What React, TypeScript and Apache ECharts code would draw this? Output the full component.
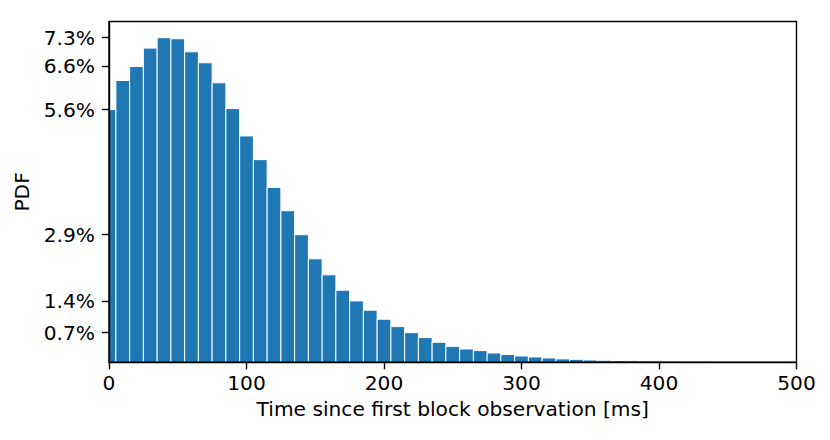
import React, { useEffect, useRef } from "react";
import * as echarts from "echarts";

// Bin centres (ms) and PDF values (%)
const binCenters: number[] = [
  0, 10, 20, 30, 40, 50, 60, 70, 80, 90,
  100, 110, 120, 130, 140, 150, 160, 170, 180, 190,
  200, 210, 220, 230, 240, 250, 260, 270, 280, 290,
  300, 310, 320, 330, 340, 350, 360, 370, 380, 390,
  400, 410, 420, 430,
];
const pdfPercent: number[] = [
  5.649, 6.299, 6.612, 7.023, 7.255, 7.232, 6.941, 6.695, 6.247, 5.672,
  5.06, 4.53, 3.91, 3.388, 2.852, 2.313, 1.955, 1.612, 1.373, 1.164,
  0.963, 0.798, 0.663, 0.552, 0.447, 0.357, 0.298, 0.261, 0.208, 0.175,
  0.141, 0.119, 0.097, 0.076, 0.066, 0.052, 0.045, 0.04, 0.035, 0.03,
  0.027, 0.022, 0.019, 0.015,
];
// Y tick positions (%), labelled with one decimal
const yTickValues: number[] = [0.663, 1.373, 2.852, 5.649, 6.612, 7.255];
const xTickInterval = 100;
const binWidth = 10;

const FONT = "DejaVu Sans";
const FS = 20.2;

export default function App() {
  const ref = useRef<HTMLDivElement>(null);
  useEffect(() => {
    if (!ref.current) return;
    const chart = echarts.init(ref.current, null, { renderer: "svg" });
    const yMax = Math.max(...pdfPercent) * 1.05;
    const data = binCenters.map((t, i) => [t, pdfPercent[i]]);
    chart.setOption({
      animation: false,
      backgroundColor: "#ffffff",
      grid: {
        left: 109,
        right: 33.5,
        top: 21.5,
        bottom: 77.7,
        show: true,
        z: 5,
        borderColor: "#000",
        borderWidth: 1.4,
        backgroundColor: "transparent",
        outerBoundsMode: "none",
      },
      xAxis: {
        type: "value",
        min: 0,
        max: 500,
        interval: xTickInterval,
        z: 5,
        name: "Time since first block observation [ms]",
        nameLocation: "middle",
        nameGap: 37,
        nameTextStyle: { color: "#000", fontFamily: FONT, fontSize: FS },
        axisLine: { show: true, onZero: false, lineStyle: { color: "#000", width: 1.4 } },
        axisTick: { show: true, inside: false, length: 7, lineStyle: { color: "#000", width: 1.4 } },
        axisLabel: { color: "#000", fontFamily: FONT, fontSize: FS, margin: 11 },
        splitLine: { show: false },
      },
      yAxis: {
        type: "value",
        min: 0,
        max: yMax,
        z: 5,
        name: "PDF",
        nameLocation: "middle",
        nameGap: 77,
        nameTextStyle: { color: "#000", fontFamily: FONT, fontSize: FS },
        axisLine: { show: true, onZero: false, lineStyle: { color: "#000", width: 1.4 } },
        axisTick: {
          show: true,
          inside: false,
          length: 7,
          customValues: yTickValues,
          lineStyle: { color: "#000", width: 1.4 },
        },
        axisLabel: {
          color: "#000",
          fontFamily: FONT,
          fontSize: FS,
          margin: 14,
          customValues: yTickValues,
          formatter: (v: number) => v.toFixed(1) + "%",
        },
        splitLine: { show: false },
      },
      series: [
        {
          type: "custom",
          clip: true,
          encode: { x: 0, y: 1 },
          data,
          renderItem: (params: any, api: any) => {
            const t = api.value(0);
            const v = api.value(1);
            const p0 = api.coord([t - binWidth / 2, v]);
            const p1 = api.coord([t + binWidth / 2, 0]);
            return {
              type: "rect",
              shape: { x: p0[0], y: p0[1], width: p1[0] - p0[0], height: p1[1] - p0[1] },
              style: { fill: "#1f77b4", stroke: "#ffffff", lineWidth: 1 },
            };
          },
          z: 1,
        },
      ],
    });
    return () => chart.dispose();
  }, []);
  return <div ref={ref} style={{ width: 830, height: 440, position: "absolute", left: 0, top: 0 }} />;
}
